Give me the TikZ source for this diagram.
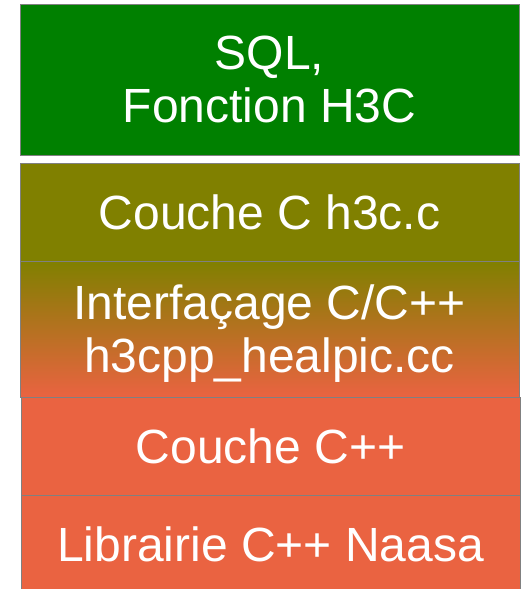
\documentclass[tikz,border=0pt]{standalone}
\usepackage{fontspec}
\setmainfont{Liberation Sans}
\usepackage{xcolor}
\definecolor{sqlGreen}   {HTML}{008000}
\definecolor{layerOlive} {HTML}{808000}
\definecolor{layerOrange}{HTML}{EA6341}
\definecolor{layerEdge}  {HTML}{808080}
\usetikzlibrary{positioning}
\tikzset{
    layer/.style={rectangle, draw=layerEdge, line width=1pt, outer sep=0pt,
                  inner sep=0pt, minimum width=499pt, text=white, align=center,
                  font=\fontsize{48}{53}\selectfont},
    sqlbox/.style={layer, fill=sqlGreen, minimum height=151pt},
    cbox/.style={layer, fill=layerOlive, minimum height=98pt},
    gluebox/.style={layer, top color=layerOlive, bottom color=layerOrange,
                    minimum height=136pt, text depth=0pt},
    cppbox/.style={layer, fill=layerOrange, minimum height=98pt},
}

\begin{document}
\begin{tikzpicture}
    \useasboundingbox (0,0) rectangle (524pt,-589pt);
    \node[sqlbox] (sql) at (269.5pt,-79.5pt) {SQL,\\Fonction H3C};
    \node[cbox, below=8pt of sql]      (couchec) {Couche C h3c.c};
    \node[gluebox, below=0pt of couchec] (interf)  {Interfaçage C/C++\\h3cpp\_healpic.cc};
    \node[cppbox, below=0pt of interf, xshift=1pt] (couchecpp) {Couche C++};
    \node[cppbox, below=0pt of couchecpp] (naasa) {Librairie C++ Naasa};
\end{tikzpicture}
\end{document}
